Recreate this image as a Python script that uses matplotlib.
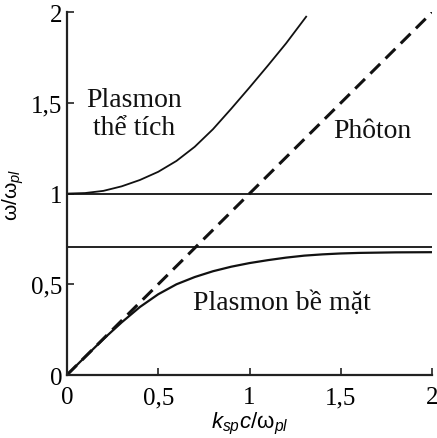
import numpy as np
import matplotlib
matplotlib.use("Agg")
import matplotlib.pyplot as plt

plt.rcParams['font.family'] = ['Liberation Serif', 'DejaVu Serif']
plt.rcParams['mathtext.fontset'] = 'custom'
plt.rcParams['mathtext.rm'] = 'Liberation Sans'
plt.rcParams['mathtext.it'] = 'Liberation Sans:italic'

# bulk plasmon curve
bulk_x = [0, 0.1, 0.2, 0.3, 0.4, 0.5, 0.6, 0.7, 0.8, 0.9, 1.0, 1.1, 1.2, 1.31]
bulk_y = [1.0, 1.003, 1.015, 1.04, 1.075, 1.12, 1.18, 1.258, 1.355, 1.468, 1.585, 1.705, 1.828, 1.975]

# surface plasmon curve
surf_x = [0, 0.1, 0.2, 0.3, 0.4, 0.5, 0.6, 0.7, 0.8, 0.9, 1.0, 1.1, 1.2, 1.3, 1.4, 1.5, 1.6, 1.8, 2.0]
surf_y = [0, 0.1, 0.198, 0.29, 0.375, 0.445, 0.50, 0.54, 0.572, 0.597, 0.617, 0.633, 0.647,
          0.658, 0.665, 0.67, 0.673, 0.676, 0.677]

# photon line
photon_x = [0, 2]
photon_y = [0, 2]

# horizontal levels
levels = [1.0, 0.707]

ticks = [0, 0.5, 1, 1.5, 2]
tick_labels = ["0", "0,5", "1", "1,5", "2"]

fig = plt.figure(figsize=(4.37, 4.39), dpi=100)
ax = fig.add_axes([0.153, 0.1435, 0.836, 0.8265])

for lv in levels:
    ax.plot([0, 2], [lv, lv], color='#111111', lw=1.3)
ax.plot(bulk_x, bulk_y, color='#111111', lw=1.3)
ax.plot(surf_x, surf_y, color='#111111', lw=1.6)
ax.plot(photon_x, photon_y, color='#111111', lw=2.2, dashes=(4.5, 2.5))

ax.set_xlim(0, 2)
ax.set_ylim(0, 2)
ax.set_xticks(ticks)
ax.set_xticklabels(tick_labels)
ax.set_yticks(ticks)
ax.set_yticklabels(tick_labels)
ax.tick_params(direction='in', length=5, width=1.2, labelsize=18, color='#222222')
ax.tick_params(axis='x', pad=8)
ax.tick_params(axis='y', pad=3)

for s in ['top', 'right']:
    ax.spines[s].set_visible(False)
for s in ['left', 'bottom']:
    ax.spines[s].set_linewidth(1.6)
    ax.spines[s].set_color('#222222')

ax.text(0.37, 1.44, "Plasmon\nthể tích", ha='center', va='center', fontsize=20,
        linespacing=1.15, color='#111111')
ax.text(1.67, 1.35, "Phôton", ha='center', va='center', fontsize=20, color='#111111')
ax.text(1.176, 0.40, "Plasmon bề mặt", ha='center', va='center', fontsize=20, color='#111111')

ax.set_xlabel(r"$k_{sp}c/\mathrm{\omega}_{pl}$", fontsize=16, labelpad=1)
ax.set_ylabel(r"$\mathrm{\omega/\omega}_{pl}$", fontsize=15, labelpad=4)

fig.savefig("out.png", dpi=100)
